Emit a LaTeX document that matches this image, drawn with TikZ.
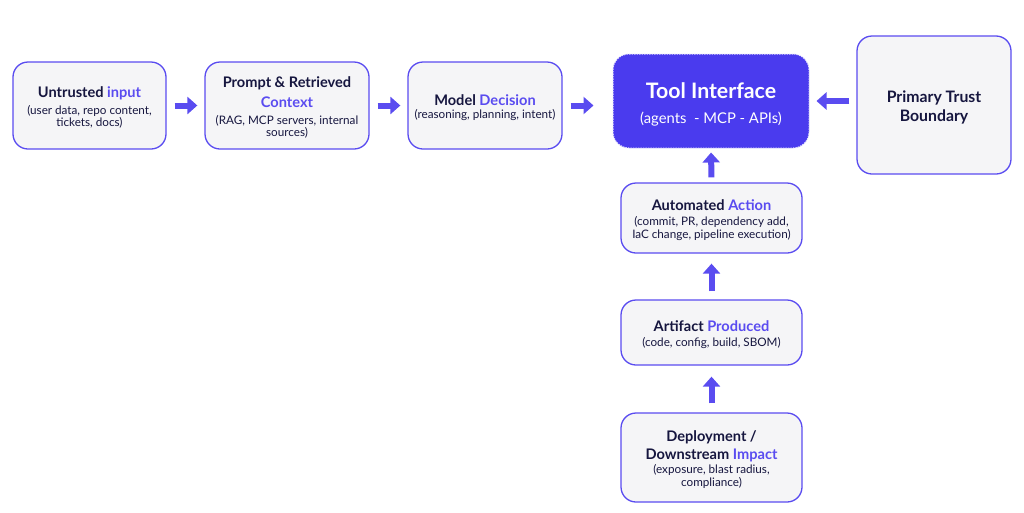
\documentclass[tikz,border=0pt]{standalone}
\usepackage{fontspec}
\setmainfont{Lato}
\usetikzlibrary{arrows.meta}
\definecolor{acc}{HTML}{5A4CF0}
\definecolor{tool}{HTML}{4A3BEE}
\definecolor{boxfill}{HTML}{F5F5F7}
\definecolor{ink}{HTML}{16163F}
\newcommand{\ttl}[1]{{\fontsize{14.6}{12.7}\selectfont\bfseries #1}}
\newcommand{\ttf}[1]{\rule{0pt}{15pt}\ttl{#1}}
\newcommand{\ac}[1]{\textcolor{acc}{#1}}
\begin{document}
\begin{tikzpicture}[x=1pt,y=-1pt,
  box/.style={draw=acc, line width=1.3pt, fill=boxfill, rounded corners=15pt, text=ink, align=center, inner sep=0pt, font=\fontsize{11.7}{12.7}\selectfont},
  arr/.style={draw=acc, line width=6pt, -{Triangle[width=17pt,length=10pt]}}]
\useasboundingbox (0,0) rectangle (1024,512);
\node[box, minimum width=153pt, minimum height=87pt] (in) at (89.5,105.5)
  {\ttf{Untrusted \ac{input}}\\[4pt](user data, repo content,\\tickets, docs)};
\node[box, minimum width=164pt, minimum height=87pt] (ctx) at (287,105.5)
  {\ttf{Prompt \& Retrieved}\\[6.3pt]\ttl{\ac{Context}}\\[3.5pt](RAG, MCP servers, internal\\sources)};
\node[box, minimum width=154pt, minimum height=87pt] (md) at (485,105.5)
  {\ttf{Model \ac{Decision}}\\[1pt](reasoning, planning, intent)};
\node[draw=white!85!tool, dashed, dash pattern=on 1.5pt off 1pt, line width=1pt, fill=tool, rounded corners=16pt, text=white, align=center, minimum width=196pt, minimum height=94pt, font=\fontsize{14.8}{16}\selectfont] (ti) at (711,101)
  {\rule{0pt}{22.5pt}{\fontsize{21.3}{16}\selectfont\bfseries Tool Interface}\\[9pt](agents\ \ - MCP - APIs)};
\node[box, minimum width=154pt, minimum height=138pt, font=\fontsize{15.8}{18.5}\selectfont\bfseries] (ptb) at (934,105)
  {\rule{0pt}{17pt}Primary Trust\\Boundary};
\node[box, minimum width=181pt, minimum height=70pt] (aa) at (711.5,218)
  {\ttf{Automated \ac{Action}}\\[2pt](commit, PR, dependency add,\\IaC change, pipeline execution)};
\node[box, minimum width=181pt, minimum height=65pt] (ap) at (711.5,332.5)
  {\ttf{Artifact \ac{Produced}}\\[2.5pt](code, config, build, SBOM)};
\node[box, minimum width=181pt, minimum height=89pt] (dep) at (711.5,457.5)
  {\ttf{Deployment /}\\[3.5pt]\ttl{Downstream \ac{Impact}}\\[1.5pt](exposure, blast radius,\\compliance)};
\draw[arr, shorten <=8pt, shorten >=7pt] (in.east) -- (ctx.west);
\draw[arr, shorten <=8pt, shorten >=7pt] (ctx.east) -- (md.west);
\draw[arr, shorten <=8pt, shorten >=19pt] (md.east) -- (md.east -| ti.west);
\draw[arr, shorten <=7pt, shorten >=7pt] (ptb.west |- ti.east) -- (ti.east);
\draw[arr, shorten <=5pt, shorten >=4pt] (aa.north) -- (ti.south);
\draw[arr, shorten <=8pt, shorten >=10pt] (ap.north) -- (aa.south);
\draw[arr, shorten <=9pt, shorten >=11pt] (dep.north) -- (ap.south);
\end{tikzpicture}
\end{document}
